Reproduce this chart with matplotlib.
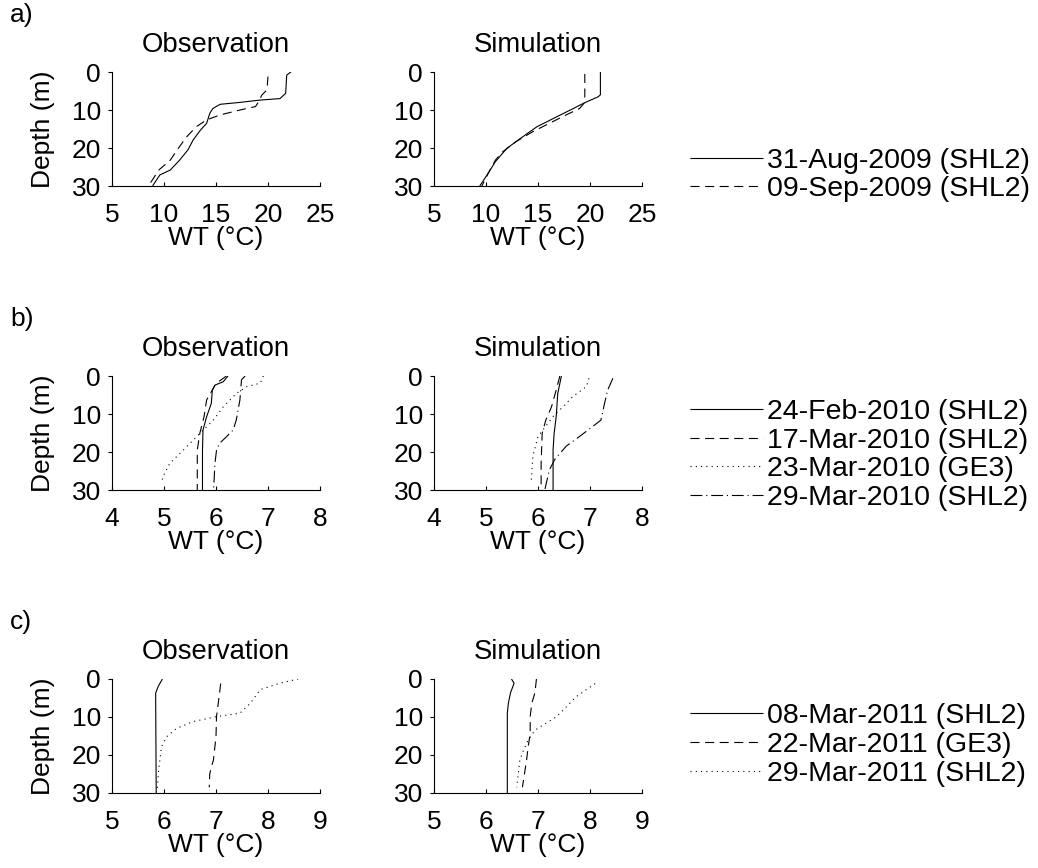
import matplotlib
matplotlib.use("Agg")
import matplotlib.pyplot as plt

plt.rcParams['font.family'] = ['Liberation Sans', 'DejaVu Sans']
plt.rcParams['lines.scale_dashes'] = False

FS = 19
FS_TITLE = 19.8
FS_LEG = 20.5

# ---------------- data: panel a ----------------
a_labels = ["31-Aug-2009 (SHL2)", "09-Sep-2009 (SHL2)"]
a_xticks = [5, 10, 15, 20, 25]
a_obs_aug31_T = [22.2, 21.8, 21.7, 21.15, 19.2, 17.3, 15.4, 14.7, 14.4, 14.1, 13.5, 12.8, 12.3, 11.5, 10.6, 9.6, 8.9]
a_obs_aug31_d = [0, 0.8, 5.6, 7.0, 7.4, 8.0, 8.5, 9.6, 10.9, 13.5, 15.3, 17.9, 20.5, 23.2, 25.8, 27.1, 30]
a_obs_sep09_T = [20.0, 19.9, 19.4, 19.1, 18.8, 17.3, 15.4, 14.1, 13.1, 12.2, 11.5, 10.6, 9.5, 8.5]
a_obs_sep09_d = [1.2, 4.7, 6.1, 7.8, 9.1, 10.0, 11.3, 12.6, 14.4, 17.0, 19.6, 23.2, 25.8, 30]
a_sim_aug31_T = [21.0, 21.0, 20.8, 19.4, 18.4, 16.5, 14.9, 13.3, 12.0, 10.9, 10.2, 9.4]
a_sim_aug31_d = [0, 6.0, 6.5, 8.2, 9.6, 12.2, 14.4, 17.5, 20.1, 23.6, 26.7, 30]
a_sim_sep09_T = [19.5, 19.5, 19.0, 17.7, 16.1, 14.5, 12.9, 11.6, 10.9, 10.2, 9.6]
a_sim_sep09_d = [0.5, 8.0, 9.6, 11.3, 13.5, 15.7, 18.3, 21.0, 23.2, 26.7, 30]

# ---------------- data: panel b ----------------
b_labels = ["24-Feb-2010 (SHL2)", "17-Mar-2010 (SHL2)", "23-Mar-2010 (GE3)", "29-Mar-2010 (SHL2)"]
b_xticks = [4, 5, 6, 7, 8]
b_obs_feb24_T = [6.23, 6.14, 5.98, 5.93, 5.91, 5.82, 5.75, 5.74, 5.74]
b_obs_feb24_d = [0, 1.5, 2.4, 3.7, 7.2, 10.7, 14.2, 19.5, 30]
b_obs_mar17_T = [6.2, 6.0, 5.82, 5.77, 5.69, 5.64, 5.64]
b_obs_mar17_d = [0, 2.0, 6.3, 10.7, 15.0, 19.5, 30]
b_obs_mar23_T = [6.91, 6.85, 6.59, 6.39, 6.14, 5.95, 5.69, 5.37, 5.11, 4.98, 4.95]
b_obs_mar23_d = [0, 1.9, 2.8, 4.6, 8.1, 11.6, 15.1, 19.5, 23.0, 26.5, 28.2]
b_obs_mar29_T = [6.56, 6.49, 6.46, 6.39, 6.33, 6.2, 6.07, 6.01, 5.98, 5.96, 5.95]
b_obs_mar29_d = [0, 1.0, 6.3, 11.6, 14.2, 16.0, 17.7, 19.5, 23.0, 28.2, 30]
b_sim_feb24_T = [6.45, 6.38, 6.35, 6.31, 6.29, 6.29]
b_sim_feb24_d = [0, 4.6, 10.7, 15.1, 19.5, 30]
b_sim_mar17_T = [6.42, 6.35, 6.26, 6.15, 6.08, 6.06, 6.06]
b_sim_mar17_d = [0, 3.7, 8.1, 11.6, 15.1, 23.0, 30]
b_sim_mar23_T = [6.98, 6.93, 6.67, 6.48, 6.3, 6.0, 5.9, 5.87]
b_sim_mar23_d = [0.6, 2.8, 5.4, 8.1, 10.5, 15.9, 21.2, 28.2]
b_sim_mar29_T = [7.44, 7.34, 7.28, 7.21, 7.05, 6.8, 6.54, 6.32, 6.22, 6.16, 6.13]
b_sim_mar29_d = [0.6, 3.7, 7.2, 11.6, 13.3, 15.9, 18.5, 22.0, 24.7, 28.2, 30]

# ---------------- data: panel c ----------------
c_labels = ["08-Mar-2011 (SHL2)", "22-Mar-2011 (GE3)", "29-Mar-2011 (SHL2)"]
c_xticks = [5, 6, 7, 8, 9]
c_obs_mar08_T = [5.97, 5.89, 5.84, 5.84, 5.85]
c_obs_mar08_d = [0, 1.9, 3.7, 5.5, 30]
c_obs_mar22_T = [7.09, 7.06, 7.01, 7.0, 6.95, 6.91, 6.88, 6.87]
c_obs_mar22_d = [1.2, 4.6, 9.9, 15.2, 21.4, 23.2, 25.0, 28.5]
c_obs_mar29_T = [8.58, 8.23, 7.85, 7.66, 7.46, 7.01, 6.56, 6.24, 6.05, 5.95, 5.92, 5.89, 5.87]
c_obs_mar29_d = [0, 1.1, 2.8, 6.4, 9.0, 9.9, 11.2, 13.0, 15.2, 17.9, 21.4, 25.0, 29.4]
c_sim_mar08_T = [6.49, 6.54, 6.47, 6.43, 6.41, 6.41]
c_sim_mar08_d = [0, 1.1, 3.7, 6.4, 9.0, 30]
c_sim_mar22_T = [6.97, 6.94, 6.88, 6.85, 6.85, 6.81, 6.78, 6.72, 6.70]
c_sim_mar22_d = [0, 3.7, 6.4, 9.9, 14.3, 17.9, 21.4, 26.7, 28.5]
c_sim_mar29_T = [8.1, 7.74, 7.36, 7.04, 6.94, 6.81, 6.72, 6.65, 6.62, 6.59]
c_sim_mar29_d = [1.2, 4.6, 9.9, 12.6, 13.5, 16.1, 18.8, 21.4, 25.0, 28.5]

depth_ticks = [0, 10, 20, 30]
panel_letters = ["a)", "b)", "c)"]
col_titles = ["Observation", "Simulation"]

# ---------------- styles ----------------
STY = {
    "solid": (0, ()),
    "dashed": (0, (6.5, 4.0)),
    "dotted": (0, (0.8, 3.0)),
    "dashdot": (0, (8.5, 2.8, 0.8, 2.8)),
}
LW = 0.8

W, H = 1038, 868
fig = plt.figure(figsize=(W / 100, H / 100), dpi=100)

lefts = [112, 434]
axw = 208
axh = 114
tops = [72, 376, 679]

panels = [
    (a_xticks, a_labels,
     [[(a_obs_aug31_T, a_obs_aug31_d, "solid"), (a_obs_sep09_T, a_obs_sep09_d, "dashed")],
      [(a_sim_aug31_T, a_sim_aug31_d, "solid"), (a_sim_sep09_T, a_sim_sep09_d, "dashed")]]),
    (b_xticks, b_labels,
     [[(b_obs_feb24_T, b_obs_feb24_d, "solid"), (b_obs_mar17_T, b_obs_mar17_d, "dashed"),
       (b_obs_mar23_T, b_obs_mar23_d, "dotted"), (b_obs_mar29_T, b_obs_mar29_d, "dashdot")],
      [(b_sim_feb24_T, b_sim_feb24_d, "solid"), (b_sim_mar17_T, b_sim_mar17_d, "dashed"),
       (b_sim_mar23_T, b_sim_mar23_d, "dotted"), (b_sim_mar29_T, b_sim_mar29_d, "dashdot")]]),
    (c_xticks, c_labels,
     [[(c_obs_mar08_T, c_obs_mar08_d, "solid"), (c_obs_mar22_T, c_obs_mar22_d, "dashed"),
       (c_obs_mar29_T, c_obs_mar29_d, "dotted")],
      [(c_sim_mar08_T, c_sim_mar08_d, "solid"), (c_sim_mar22_T, c_sim_mar22_d, "dashed"),
       (c_sim_mar29_T, c_sim_mar29_d, "dotted")]]),
]

legend_centers = [175, 455, 745]

for p, (xt, labels, cols) in enumerate(panels):
    top = tops[p]
    handles = []
    for c, series in enumerate(cols):
        ax = fig.add_axes([lefts[c] / W, 1 - (top + axh) / H, axw / W, axh / H])
        for T, d, s in series:
            ln, = ax.plot(T, d, color="black", lw=LW, linestyle=STY[s])
            if c == 0:
                handles.append(ln)
        ax.set_xlim(xt[0], xt[-1])
        ax.set_ylim(30, 0)
        ax.set_xticks(xt)
        ax.set_yticks(depth_ticks)
        ax.spines[["top", "right"]].set_visible(False)
        for sp in ("left", "bottom"):
            ax.spines[sp].set_linewidth(0.8)
        ax.tick_params(axis="x", direction="in", length=3, width=0.8, pad=12, labelsize=FS)
        ax.tick_params(axis="y", direction="out", length=3, width=0.8, pad=5, labelsize=FS)
        ax.set_title(col_titles[c], fontsize=FS_TITLE, pad=14.5)
        ax.set_xlabel("WT (°C)", fontsize=FS, va="center")
        ax.xaxis.set_label_coords(0.5, -0.46)
        if c == 0:
            ax.set_ylabel("Depth (m)", fontsize=FS, va="center")
            ax.yaxis.set_label_coords(-0.33, 0.5)
    fig.text(10 / W, 1 - (top - 50) / H, panel_letters[p], fontsize=FS, va="baseline", ha="left")
    fig.legend(handles, labels, loc="center left",
               bbox_to_anchor=(690 / W, 1 - legend_centers[p] / H),
               frameon=False, fontsize=FS_LEG, handlelength=2.55, handletextpad=0.17,
               labelspacing=0.1, borderpad=0, borderaxespad=0)

fig.savefig("out.png", dpi=100)
